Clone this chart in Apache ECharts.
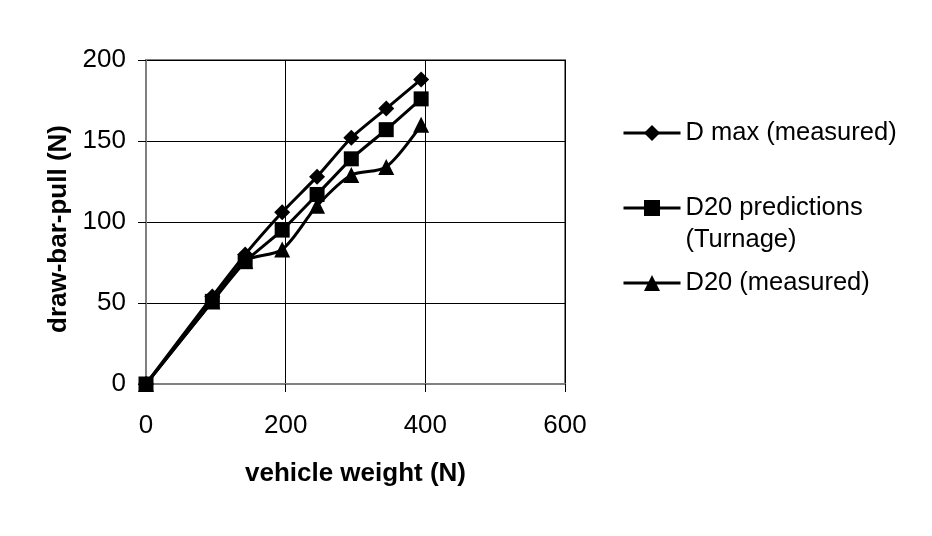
<!DOCTYPE html>
<html>
<head>
<meta charset="utf-8">
<script src="https://cdn.jsdelivr.net/npm/echarts@6/dist/echarts.min.js"></script>
<style>
  html, body { margin: 0; padding: 0; background: #fff; }
  #chart { width: 932px; height: 536px; }
</style>
</head>
<body>
<div id="chart"></div>
<script>
// vehicle weight (N)
const weights = [0, 95, 142, 195, 245, 294, 344, 394];
// draw-bar-pull (N)
const dMax = [0, 54, 80, 106, 128, 152, 170, 188];
const d20Pred = [0, 51, 75.5, 95, 117, 139, 157, 176];
const d20Meas = [0, 51, 76, 83, 110, 129, 134, 160];

const xTicks = [0, 200, 400, 600];
const yTicks = [0, 50, 100, 150, 200];

const font = 'Liberation Sans, Arial, sans-serif';

function pairs(ys) {
  return weights.map(function (w, i) { return [w, ys[i]]; });
}

function legendFor(name, top) {
  return {
    data: [name],
    left: 617,
    top: top,
    itemWidth: 57,
    itemHeight: 20,
    itemGap: 0,
    lineStyle: { width: 3 },
    textStyle: { fontFamily: font, fontSize: 25.5, color: '#000', lineHeight: 32 },
    formatter: function (n) {
      return n === 'D20 predictions (Turnage)' ? '\nD20 predictions\n(Turnage)' : n;
    }
  };
}

const chart = echarts.init(document.getElementById('chart'));
chart.setOption({
  backgroundColor: '#fff',
  animation: false,
  grid: {
    left: 146, right: 367, top: 60, bottom: 152,
    show: true, borderColor: '#808080', borderWidth: 2
  },
  legend: [
    legendFor('D max (measured)', 112),
    legendFor('D20 predictions (Turnage)', 155),
    legendFor('D20 (measured)', 262)
  ],
  xAxis: {
    type: 'value',
    min: xTicks[0], max: xTicks[xTicks.length - 1], interval: 200,
    name: 'vehicle weight (N)',
    nameLocation: 'middle',
    nameGap: 77,
    nameTextStyle: { fontFamily: font, fontSize: 26, fontWeight: 'bold', color: '#000' },
    axisLine: { show: true, lineStyle: { color: '#808080', width: 2 } },
    axisTick: { show: true, length: 8, lineStyle: { color: '#000', width: 1 } },
    axisLabel: { fontFamily: font, fontSize: 26, color: '#000', margin: 29 },
    splitLine: { show: true, lineStyle: { color: '#000', width: 1 } }
  },
  yAxis: {
    type: 'value',
    min: yTicks[0], max: yTicks[yTicks.length - 1], interval: 50,
    name: 'draw-bar-pull (N)',
    nameLocation: 'middle',
    nameGap: 74,
    nameTextStyle: { fontFamily: font, fontSize: 26, fontWeight: 'bold', color: '#000', padding: [0, 14, 0, 0] },
    axisLine: { show: true, lineStyle: { color: '#808080', width: 2 } },
    axisTick: { show: true, length: 8, lineStyle: { color: '#000', width: 1 } },
    axisLabel: { fontFamily: font, fontSize: 26, color: '#000', margin: 20 },
    splitLine: { show: true, lineStyle: { color: '#000', width: 1 } }
  },
  series: [
    {
      name: 'D max (measured)', type: 'line', data: pairs(dMax),
      symbol: 'diamond', symbolSize: 16, smooth: 0.2, z: 2,
      lineStyle: { color: '#000', width: 3 },
      itemStyle: { color: '#000' }
    },
    {
      name: 'D20 predictions (Turnage)', type: 'line', data: pairs(d20Pred),
      symbol: 'rect', symbolSize: 15, smooth: 0.2, z: 4,
      lineStyle: { color: '#000', width: 3 },
      itemStyle: { color: '#000' }
    },
    {
      name: 'D20 (measured)', type: 'line', data: pairs(d20Meas),
      symbol: 'triangle', symbolSize: 16, smooth: 0.3, z: 3,
      lineStyle: { color: '#000', width: 3 },
      itemStyle: { color: '#000' }
    }
  ]
});
</script>
</body>
</html>
